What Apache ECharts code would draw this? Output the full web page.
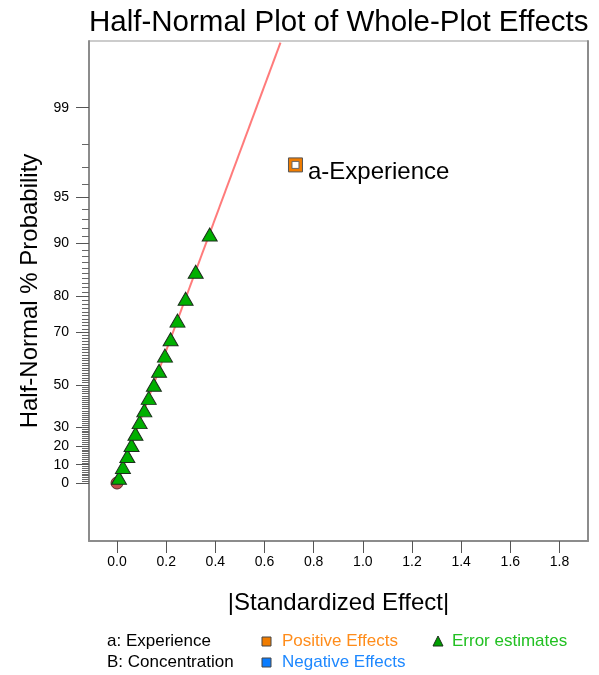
<!DOCTYPE html>
<html><head><meta charset="utf-8">
<script src="https://cdn.jsdelivr.net/npm/echarts@6/dist/echarts.min.js"></script>
<style>html,body{margin:0;padding:0;background:#fff}#c{width:599px;height:675px}</style>
</head><body><div id="c"></div>
<script>
// ---- data ----
const errorX = [0.008, 0.024, 0.042, 0.059, 0.075, 0.092, 0.111, 0.129, 0.150, 0.171, 0.195, 0.218, 0.246, 0.279, 0.320, 0.377];
const errorP = [2.9, 8.8, 14.7, 20.6, 26.5, 32.4, 38.2, 44.1, 50.0, 55.9, 61.8, 67.6, 73.5, 79.4, 85.3, 91.2];
const effectX = [0.726];
const effectP = [97.1];
const effectNames = ['a-Experience'];
const originX = [0];
const originP = [0];
const lineX = [0, 0.665];
const lineP = [0, 99.75];
const yMajorTicks = [0, 10, 20, 30, 50, 70, 80, 90, 95, 99];
const xTicks = [0, 0.2, 0.4, 0.6, 0.8, 1.0, 1.2, 1.4, 1.6, 1.8];
const yMinorTicks = [];
for (let p = 1; p <= 98; p++) if (yMajorTicks.indexOf(p) < 0) yMinorTicks.push(p);

// half-normal probability scale: percent -> normal quantile of 0.5 + p/200
function probit(q) {
  const a=[-3.969683028665376e+01,2.209460984245205e+02,-2.759285104469687e+02,1.383577518672690e+02,-3.066479806614716e+01,2.506628277459239e+00];
  const b=[-5.447609879822406e+01,1.615858368580409e+02,-1.556989798598866e+02,6.680131188771972e+01,-1.328068155288572e+01];
  const c=[-7.784894002430293e-03,-3.223964580411365e-01,-2.400758277161838e+00,-2.549732539343734e+00,4.374664141464968e+00,2.938163982698783e+00];
  const d=[7.784695709041462e-03,3.224671290700398e-01,2.445134137142996e+00,3.754408661907416e+00];
  const pl=0.02425, ph=1-pl; let x, r;
  if (q < pl) { x=Math.sqrt(-2*Math.log(q)); return (((((c[0]*x+c[1])*x+c[2])*x+c[3])*x+c[4])*x+c[5])/((((d[0]*x+d[1])*x+d[2])*x+d[3])*x+1); }
  if (q <= ph) { x=q-0.5; r=x*x; return (((((a[0]*r+a[1])*r+a[2])*r+a[3])*r+a[4])*r+a[5])*x/(((((b[0]*r+b[1])*r+b[2])*r+b[3])*r+b[4])*r+1); }
  x=Math.sqrt(-2*Math.log(1-q)); return -(((((c[0]*x+c[1])*x+c[2])*x+c[3])*x+c[4])*x+c[5])/((((d[0]*x+d[1])*x+d[2])*x+d[3])*x+1);
}
function hz(p) { return p <= 0 ? 0 : probit(0.5 + p / 200); }

const majorZ = yMajorTicks.map(hz);
const minorZ = yMinorTicks.map(hz);
const zLabel = {};
yMajorTicks.forEach((p, i) => { zLabel[majorZ[i].toFixed(6)] = String(p); });

const FONT = 'Liberation Sans, Arial, sans-serif';
const YMIN = -0.398, YMAX = 3.034;

const chart = echarts.init(document.getElementById('c'), null, {renderer: 'canvas'});
chart.setOption({
  animation: false,
  backgroundColor: '#fff',
  title: {
    text: 'Half-Normal Plot of Whole-Plot Effects',
    left: 84, top: 3,
    textStyle: {fontFamily: FONT, fontSize: 29.5, fontWeight: 'normal', color: '#000'}
  },
  grid: {left: 89, right: 11, top: 41, bottom: 134, show: true, borderColor: '#999', borderWidth: 1, backgroundColor: '#fff'},
  xAxis: {
    type: 'value', min: -0.114, max: 1.916,
    name: '|Standardized Effect|', nameLocation: 'middle', nameGap: 50,
    nameTextStyle: {fontFamily: FONT, fontSize: 24, color: '#000'},
    axisLine: {show: true, onZero: false, lineStyle: {color: '#8c8c8c', width: 2}},
    axisTick: {show: true, length: 12, customValues: xTicks, lineStyle: {color: '#555', width: 1}},
    axisLabel: {customValues: xTicks, margin: 14, fontFamily: FONT, fontSize: 14, color: '#000', formatter: v => v.toFixed(1)},
    splitLine: {show: false}
  },
  yAxis: [{
    type: 'value', min: YMIN, max: YMAX, position: 'left',
    name: 'Half-Normal % Probability', nameLocation: 'middle', nameGap: 46,
    nameTextStyle: {fontFamily: FONT, fontSize: 24, color: '#000'},
    axisLine: {show: true, onZero: false, lineStyle: {color: '#8c8c8c', width: 2}},
    axisTick: {show: true, length: 13, customValues: majorZ, lineStyle: {color: '#555', width: 1}},
    axisLabel: {customValues: majorZ, margin: 20, fontFamily: FONT, fontSize: 14, color: '#000',
      formatter: v => zLabel[v.toFixed(6)] || ''},
    splitLine: {show: false}
  }, {
    type: 'value', min: YMIN, max: YMAX, position: 'left',
    axisLine: {show: false, onZero: false},
    axisTick: {show: true, length: 7, customValues: minorZ, lineStyle: {color: '#666', width: 1}},
    axisLabel: {show: false}, splitLine: {show: false}
  }, {
    type: 'value', min: YMIN, max: YMAX, position: 'right',
    axisLine: {show: true, onZero: false, lineStyle: {color: '#8c8c8c', width: 2}},
    axisTick: {show: false}, axisLabel: {show: false}, splitLine: {show: false}
  }],
  series: [{
    type: 'line', name: 'fit', data: lineX.map((x, i) => [x, hz(lineP[i])]),
    symbol: 'none', lineStyle: {color: '#FF7B7B', width: 2}, z: 1, clip: true
  }, {
    type: 'scatter', name: 'origin', data: originX.map((x, i) => [x, hz(originP[i])]),
    symbol: 'circle', symbolSize: 12,
    itemStyle: {color: '#C24E4E', borderColor: '#5a2a2a', borderWidth: 1, opacity: 1}, z: 2
  }, {
    type: 'scatter', name: 'Error estimates', data: errorX.map((x, i) => [x, hz(errorP[i])]),
    symbol: 'triangle', symbolSize: [15, 13],
    itemStyle: {color: '#00B000', borderColor: '#1c2e1c', borderWidth: 1, opacity: 1}, z: 3
  }, {
    type: 'scatter', name: 'Positive Effects', data: effectX.map((x, i) => [x, hz(effectP[i])]),
    symbol: 'rect', symbolSize: 14,
    itemStyle: {color: '#F07C00', borderColor: '#555', borderWidth: 1, opacity: 1}, z: 4,
    label: {show: true, position: 'right', distance: 5, offset: [0, 7],
      formatter: p => effectNames[p.dataIndex], fontFamily: FONT, fontSize: 24, color: '#000'}
  }, {
    type: 'scatter', name: 'inner', data: effectX.map((x, i) => [x, hz(effectP[i])]),
    symbol: 'rect', symbolSize: 7,
    itemStyle: {color: '#fff', borderColor: '#666', borderWidth: 1, opacity: 1}, z: 5, silent: true
  }],
  graphic: [
    {type: 'text', left: 107, top: 633, style: {text: 'a: Experience', font: '17px ' + FONT, fill: '#000'}},
    {type: 'text', left: 107, top: 654, style: {text: 'B: Concentration', font: '17px ' + FONT, fill: '#000'}},
    {type: 'rect', shape: {x: 262, y: 637, width: 9, height: 9}, style: {fill: '#F07C00', stroke: '#444', lineWidth: 1}},
    {type: 'text', left: 282, top: 633, style: {text: 'Positive Effects', font: '17px ' + FONT, fill: '#FF8C1A'}},
    {type: 'rect', shape: {x: 262, y: 658, width: 9, height: 9}, style: {fill: '#0A7CFF', stroke: '#444', lineWidth: 1}},
    {type: 'text', left: 282, top: 654, style: {text: 'Negative Effects', font: '17px ' + FONT, fill: '#1E88FF'}},
    {type: 'polygon', shape: {points: [[438, 636], [443, 646], [433, 646]]}, style: {fill: '#00A000', stroke: '#1c2e1c', lineWidth: 1}},
    {type: 'text', left: 452, top: 633, style: {text: 'Error estimates', font: '17px ' + FONT, fill: '#22C022'}}
  ]
});
</script>
</body></html>
